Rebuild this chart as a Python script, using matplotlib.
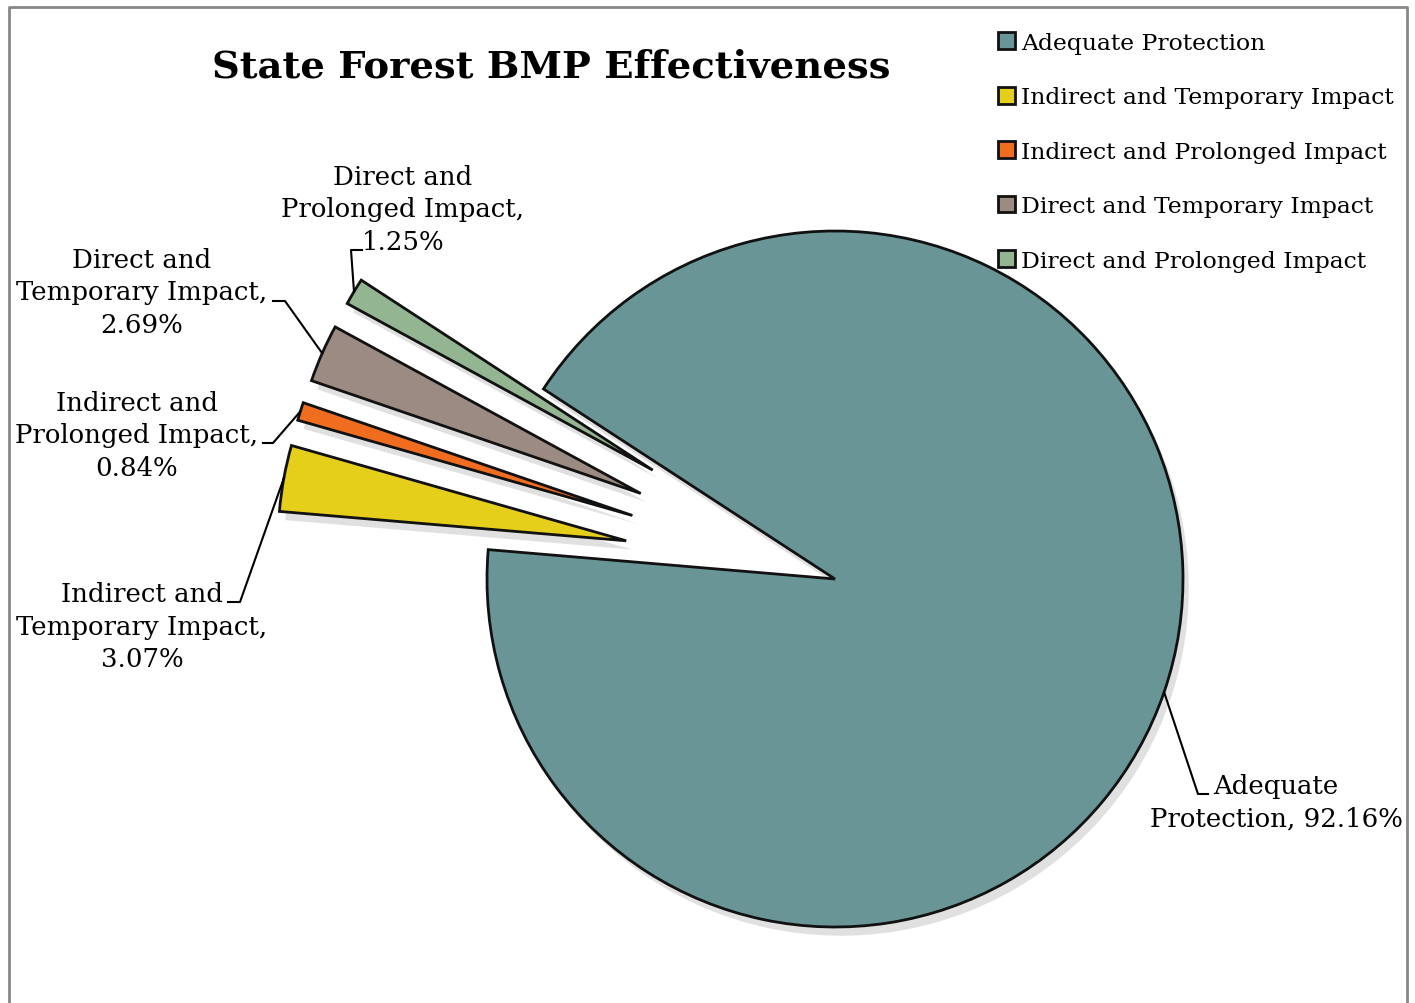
import numpy as np
import matplotlib.pyplot as plt
from matplotlib.lines import Line2D

# ---- data ----
labels = ["Adequate Protection", "Indirect and Temporary Impact",
          "Indirect and Prolonged Impact", "Direct and Temporary Impact",
          "Direct and Prolonged Impact"]
label_text = ["Adequate\nProtection, 92.16%", "Indirect and\nTemporary Impact,\n3.07%",
              "Indirect and\nProlonged Impact,\n0.84%", "Direct and\nTemporary Impact,\n2.69%",
              "Direct and\nProlonged Impact,\n1.25%"]
values = [92.16, 3.07, 0.84, 2.69, 1.25]
colors = ["#6A9597", "#E6CF1A", "#F06C1E", "#9C8B82", "#93B592"]
explode = [0, 0.61, 0.61, 0.61, 0.61]

W, H = 1415, 1004
fig = plt.figure(figsize=(W / 100, H / 100), dpi=100)
ax = fig.add_axes([0, 0, 1, 1])

# pie centre / radius in pixels
cx, cy, R = 835, 580, 348

wedges, _ = ax.pie(values, colors=colors, explode=explode, startangle=146.9,
                   counterclock=False, radius=1,
                   wedgeprops=dict(edgecolor="#111111", linewidth=2),
                   shadow=dict(ox=0.012, oy=-0.018, facecolor="#bbbbbb",
                               edgecolor="none", alpha=0.45))
ax.set_xlim(-cx / R, (W - cx) / R)
ax.set_ylim(-(H - cy) / R, cy / R)
ax.axis("off")

# title
fig.text(551 / W, 1 - 67 / H, "State Forest BMP Effectiveness", ha="center", va="center",
         fontsize=27.7, fontweight="bold", family="DejaVu Serif")

# legend
fig.legend(wedges, labels, loc="upper left", bbox_to_anchor=(998 / W, 1 - 33 / H),
           frameon=False, prop=dict(family="DejaVu Serif", size=16.9),
           handlelength=0.72, handleheight=0.72, handletextpad=0.25,
           labelspacing=1.38, borderpad=0, borderaxespad=0)

# data labels: text centre (px), stub start (px), elbow (px)
lab_pos = [(1276, 803), (142, 627), (137, 436), (142, 293), (403, 210)]
stub = [(1208, 795), (228, 603), (263, 444), (273, 302), (362, 251)]
elbow = [(1198, 795), (240, 603), (273, 444), (285, 302), (351, 251)]

to_fig = ax.transData + fig.transFigure.inverted()
for w, txt, p, s, e in zip(wedges, label_text, lab_pos, stub, elbow):
    fig.text(p[0] / W, 1 - p[1] / H, txt, ha="center", va="center", fontsize=18.7,
             family="DejaVu Serif", linespacing=1.36)
    mid = np.deg2rad((w.theta1 + w.theta2) / 2)
    anchor = to_fig.transform((w.center[0] + w.r * np.cos(mid), w.center[1] + w.r * np.sin(mid)))
    xs = [s[0] / W, e[0] / W, anchor[0]]
    ys = [1 - s[1] / H, 1 - e[1] / H, anchor[1]]
    fig.add_artist(Line2D(xs, ys, color="black", lw=1.5))

# chart border (left, top, right)
fig.add_artist(Line2D([8.5 / W, 8.5 / W, 1407 / W, 1407 / W],
                      [0, 1 - 7.5 / H, 1 - 7.5 / H, 0], color="#888888", lw=2))

fig.savefig("out.png", dpi=100)
